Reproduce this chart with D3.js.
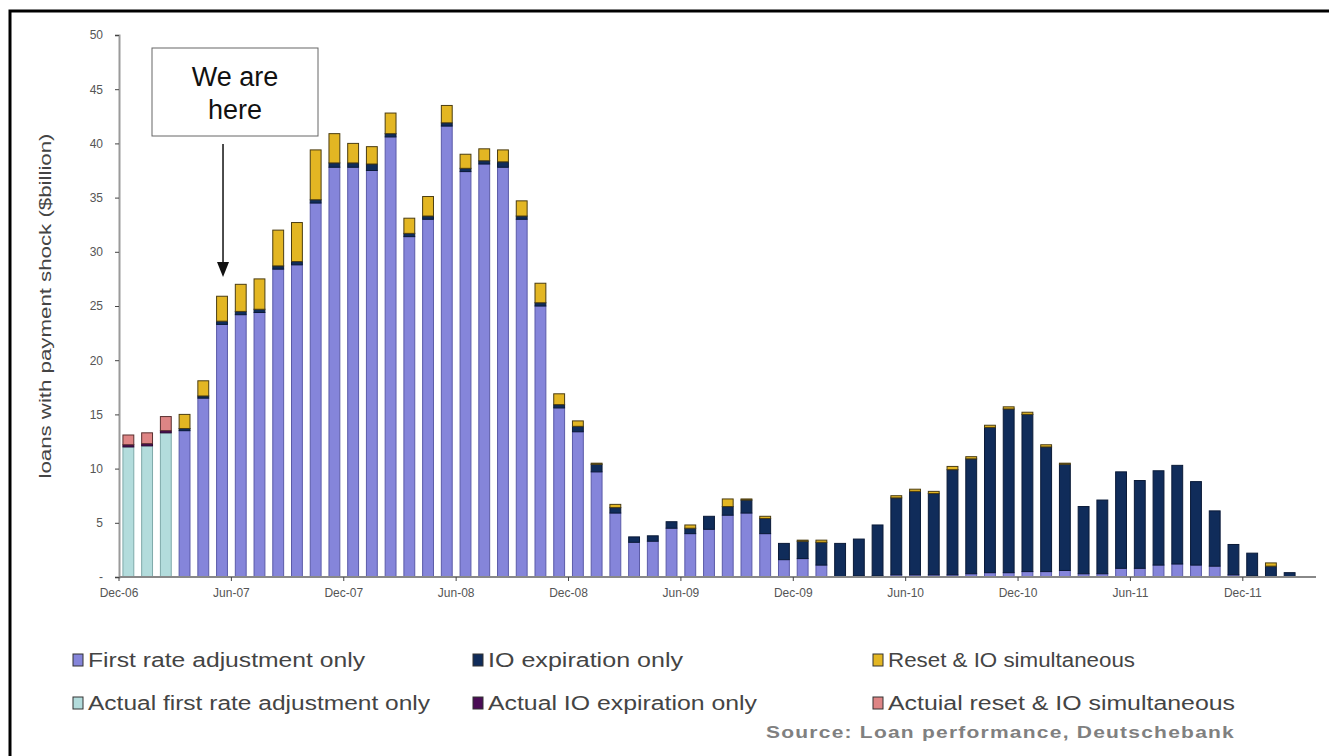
<!DOCTYPE html>
<html>
<head>
<meta charset="utf-8">
<script src="https://cdnjs.cloudflare.com/ajax/libs/d3/7.8.5/d3.min.js"></script>
<style>
    body { margin: 0; background: #fff; }
    text { font-family: Arial, "Liberation Sans", sans-serif; }
</style>
</head>
<body>
<div id="chart-area"></div>
<script>

// Data (monthly, Dec-06 .. Feb-12), $billion
var months = ["Dec-06","Jan-07","Feb-07","Mar-07","Apr-07","May-07","Jun-07","Jul-07","Aug-07","Sep-07","Oct-07","Nov-07",
    "Dec-07","Jan-08","Feb-08","Mar-08","Apr-08","May-08","Jun-08","Jul-08","Aug-08","Sep-08","Oct-08","Nov-08",
    "Dec-08","Jan-09","Feb-09","Mar-09","Apr-09","May-09","Jun-09","Jul-09","Aug-09","Sep-09","Oct-09","Nov-09",
    "Dec-09","Jan-10","Feb-10","Mar-10","Apr-10","May-10","Jun-10","Jul-10","Aug-10","Sep-10","Oct-10","Nov-10",
    "Dec-10","Jan-11","Feb-11","Mar-11","Apr-11","May-11","Jun-11","Jul-11","Aug-11","Sep-11","Oct-11","Nov-11",
    "Dec-11","Jan-12","Feb-12"];

var actualFirstRate = [12.0,12.1,13.3,0,0,0,0,0,0,0,0,0, 0,0,0,0,0,0,0,0,0,0,0,0, 0,0,0,0,0,0,0,0,0,0,0,0,
    0,0,0,0,0,0,0,0,0,0,0,0, 0,0,0,0,0,0,0,0,0,0,0,0, 0,0,0];

var firstRate = [0,0,0,13.5,16.5,23.3,24.2,24.4,28.4,28.8,34.5,37.8,
    37.8,37.5,40.6,31.4,33.0,41.6,37.4,38.1,37.8,33.0,25.0,15.6,
    13.4,9.7,5.9,3.2,3.3,4.5,4.0,4.4,5.7,5.9,4.0,1.6,
    1.7,1.1,0,0.1,0.1,0.2,0.2,0.2,0.2,0.3,0.4,0.4,
    0.5,0.5,0.6,0.3,0.3,0.8,0.8,1.1,1.2,1.1,1.0,0.2,
    0.1,0,0];

var ioExpiration = [0,0,0,0.2,0.2,0.3,0.3,0.3,0.3,0.3,0.3,0.4,
    0.4,0.6,0.3,0.3,0.3,0.3,0.3,0.3,0.5,0.3,0.3,0.3,
    0.5,0.7,0.5,0.5,0.5,0.6,0.5,1.2,0.8,1.2,1.4,1.5,
    1.6,2.1,3.1,3.4,4.7,7.1,7.7,7.5,9.7,10.6,13.4,15.1,
    14.5,11.5,9.8,6.2,6.8,8.9,8.1,8.7,9.1,7.7,5.1,2.8,
    2.1,1.0,0.4];

var actualIO = [0.2,0.2,0.2,0,0,0,0,0,0,0,0,0, 0,0,0,0,0,0,0,0,0,0,0,0, 0,0,0,0,0,0,0,0,0,0,0,0,
    0,0,0,0,0,0,0,0,0,0,0,0, 0,0,0,0,0,0,0,0,0,0,0,0, 0,0,0];

var resetIO = [0,0,0,1.3,1.4,2.3,2.5,2.8,3.3,3.6,4.6,2.7,
    1.8,1.6,1.9,1.4,1.8,1.6,1.3,1.1,1.1,1.4,1.8,1.0,
    0.5,0.1,0.3,0,0,0,0.3,0,0.7,0.1,0.2,0,
    0.1,0.2,0,0,0,0.2,0.2,0.2,0.3,0.2,0.2,0.2,
    0.2,0.2,0.1,0,0,0,0,0,0,0,0,0,
    0,0.3,0];

var actualReset = [0.9,1.0,1.3,0,0,0,0,0,0,0,0,0, 0,0,0,0,0,0,0,0,0,0,0,0, 0,0,0,0,0,0,0,0,0,0,0,0,
    0,0,0,0,0,0,0,0,0,0,0,0, 0,0,0,0,0,0,0,0,0,0,0,0, 0,0,0];

var xTickLabels = ["Dec-06","Jun-07","Dec-07","Jun-08","Dec-08","Jun-09","Dec-09","Jun-10","Dec-10","Jun-11","Dec-11"];
var yTicks = [0,5,10,15,20,25,30,35,40,45,50];

// Series (stack order bottom -> top)
var seriesKeys = ["actualFirstRate","firstRate","ioExpiration","actualIO","resetIO","actualReset"];
var seriesFill = {
    actualFirstRate: "#b3dcdc",
    firstRate: "#8585da",
    ioExpiration: "#102c5a",
    actualIO: "#4a0c55",
    resetIO: "#e3b623",
    actualReset: "#de8585"
};
var seriesStroke = {
    actualFirstRate: "#7fa9a9",
    firstRate: "#5b5ba8",
    ioExpiration: "#0a1a38",
    actualIO: "#2a0530",
    resetIO: "#4b3d12",
    actualReset: "#5a3030"
};

var rows = months.map(function(m, i) {
    return {
        month: m,
        actualFirstRate: actualFirstRate[i],
        firstRate: firstRate[i],
        ioExpiration: ioExpiration[i],
        actualIO: actualIO[i],
        resetIO: resetIO[i],
        actualReset: actualReset[i]
    };
});

// SVG drawing area
var width = 1329, height = 756;

var svg = d3.select("#chart-area").append("svg")
    .attr("width", width)
    .attr("height", height);

svg.append("rect")
    .attr("width", width)
    .attr("height", height)
    .attr("fill", "#fff");

// outer frame (cut off at right/bottom like the screenshot)
svg.append("rect")
    .attr("x", 10)
    .attr("y", 11)
    .attr("width", 1340)
    .attr("height", 760)
    .attr("fill", "none")
    .attr("stroke", "#000")
    .attr("stroke-width", 3);

// Scales
var x = d3.scaleBand()
    .domain(months)
    .range([119, 1299])
    .paddingInner(0.42)
    .paddingOuter(0.21);

var y = d3.scaleLinear()
    .domain([0, 50])
    .range([577, 35]);

// Bars
var stack = d3.stack().keys(seriesKeys);
var stacked = stack(rows);

var layers = svg.selectAll(".layer")
    .data(stacked)
    .enter().append("g")
    .attr("class", "layer")
    .attr("fill", function(d) { return seriesFill[d.key]; })
    .attr("stroke", function(d) { return seriesStroke[d.key]; });

layers.selectAll("rect")
    .data(function(d) { return d.filter(function(p) { return p[1] - p[0] > 0; }); })
    .enter().append("rect")
    .attr("x", function(d) { return x(d.data.month); })
    .attr("width", x.bandwidth())
    .attr("y", function(d) { return y(d[1]); })
    .attr("height", function(d) { return y(d[0]) - y(d[1]); })
    .attr("stroke-width", 1);

// Axis
var yAxis = d3.axisLeft(y)
    .tickValues(yTicks)
    .tickSize(4)
    .tickPadding(12)
    .tickFormat(function(d) { return d === 0 ? "-" : d; });

var yAxisGroup = svg.append("g")
    .attr("class", "y-axis axis")
    .attr("transform", "translate(119,0)")
    .call(yAxis);

yAxisGroup.select(".domain").attr("stroke", "#9a9a9a").attr("stroke-width", 2);
yAxisGroup.selectAll(".tick line").attr("stroke", "#444");
yAxisGroup.selectAll(".tick text")
    .attr("fill", "#555")
    .style("font-size", "12px");

// x axis: ticks on category edges every 6 months
svg.append("line")
    .attr("x1", 119)
    .attr("x2", 1316)
    .attr("y1", y(0))
    .attr("y2", y(0))
    .attr("stroke", "#888")
    .attr("stroke-width", 2);

var xTicks = svg.selectAll(".x-tick")
    .data(xTickLabels)
    .enter().append("g")
    .attr("class", "x-tick")
    .attr("transform", function(d) {
        return "translate(" + (x(d) - x.step() * x.paddingInner() / 2) + "," + y(0) + ")";
    });

xTicks.append("line")
    .attr("y1", 0)
    .attr("y2", 4)
    .attr("stroke", "#444");

xTicks.append("text")
    .attr("y", 20)
    .attr("text-anchor", "middle")
    .attr("fill", "#555")
    .style("font-size", "12px")
    .text(function(d) { return d; });

// axis title
svg.append("text")
    .attr("transform", "translate(51,306) rotate(-90)")
    .attr("text-anchor", "middle")
    .attr("fill", "#444")
    .attr("textLength", 345)
    .attr("lengthAdjust", "spacingAndGlyphs")
    .style("font-size", "16px")
    .text("loans with payment shock ($billion)");

// "We are here" annotation
svg.append("rect")
    .attr("x", 152)
    .attr("y", 48)
    .attr("width", 166)
    .attr("height", 88)
    .attr("fill", "#fff")
    .attr("stroke", "#666");

svg.append("text")
    .attr("x", 235)
    .attr("y", 86)
    .attr("text-anchor", "middle")
    .attr("fill", "#111")
    .style("font-size", "27px")
    .text("We are");

svg.append("text")
    .attr("x", 235)
    .attr("y", 119)
    .attr("text-anchor", "middle")
    .attr("fill", "#111")
    .style("font-size", "27px")
    .text("here");

var arrowX = x("May-07") + x.bandwidth() / 2 + 1;
svg.append("line")
    .attr("x1", arrowX)
    .attr("x2", arrowX)
    .attr("y1", 144)
    .attr("y2", 264)
    .attr("stroke", "#111")
    .attr("stroke-width", 1.5);

svg.append("path")
    .attr("d", "M" + (arrowX - 6) + ",262 L" + (arrowX + 6) + ",262 L" + arrowX + ",277 Z")
    .attr("fill", "#111");

// Legend
var legendItems = [
    {key: "firstRate", label: "First rate adjustment only", x: 73, y: 660, len: 277},
    {key: "ioExpiration", label: "IO expiration only", x: 473, y: 660, len: 195},
    {key: "resetIO", label: "Reset & IO simultaneous", x: 873, y: 660, len: 247},
    {key: "actualFirstRate", label: "Actual first rate adjustment only", x: 73, y: 703, len: 342},
    {key: "actualIO", label: "Actual IO expiration only", x: 473, y: 703, len: 269},
    {key: "actualReset", label: "Actuial reset & IO simultaneous", x: 873, y: 703, len: 347}
];

var legend = svg.selectAll(".legend")
    .data(legendItems)
    .enter().append("g")
    .attr("class", "legend")
    .attr("transform", function(d) { return "translate(" + d.x + "," + d.y + ")"; });

legend.append("rect")
    .attr("x", 0)
    .attr("y", -6)
    .attr("width", 10)
    .attr("height", 12)
    .attr("fill", function(d) { return seriesFill[d.key]; })
    .attr("stroke", "#333");

legend.append("text")
    .attr("x", 15)
    .attr("y", 7)
    .attr("fill", "#444")
    .attr("textLength", function(d) { return d.len; })
    .attr("lengthAdjust", "spacingAndGlyphs")
    .style("font-size", "20px")
    .text(function(d) { return d.label; });

// Source
svg.append("text")
    .attr("x", 766)
    .attr("y", 738)
    .attr("fill", "#808080")
    .attr("textLength", 469)
    .attr("lengthAdjust", "spacingAndGlyphs")
    .style("font-size", "17px")
    .style("font-weight", "bold")
    .style("letter-spacing", "1px")
    .text("Source: Loan performance, Deutschebank");

</script>
</body>
</html>
